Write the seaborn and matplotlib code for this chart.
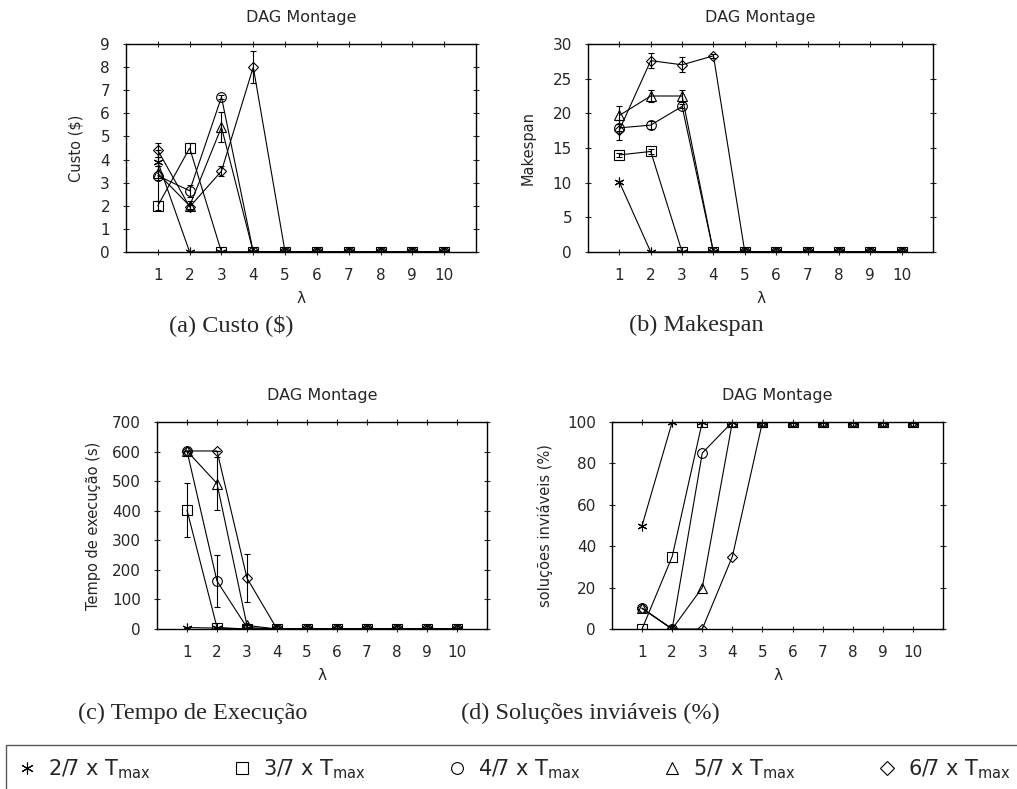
import matplotlib
matplotlib.use('Agg')
import matplotlib.pyplot as plt
import matplotlib.lines as mlines
import seaborn as sns
import numpy as np

# eixo x (lambda)
lam = [1, 2, 3, 4, 5, 6, 7, 8, 9, 10]
series_names = ['2/7 x T', '3/7 x T', '4/7 x T', '5/7 x T', '6/7 x T']

# (a) Custo ($)
custo_27 = [3.9, 0, 0, 0, 0, 0, 0, 0, 0, 0]
custo_37 = [2.0, 4.5, 0, 0, 0, 0, 0, 0, 0, 0]
custo_47 = [3.3, 2.65, 6.7, 0, 0, 0, 0, 0, 0, 0]
custo_57 = [3.4, 2.0, 5.4, 0, 0, 0, 0, 0, 0, 0]
custo_67 = [4.4, 1.95, 3.5, 8.0, 0, 0, 0, 0, 0, 0]
custo_err_27 = [0.2, 0, 0, 0, 0, 0, 0, 0, 0, 0]
custo_err_37 = [0.2, 0.2, 0, 0, 0, 0, 0, 0, 0, 0]
custo_err_47 = [1.1, 0.25, 0.1, 0, 0, 0, 0, 0, 0, 0]
custo_err_57 = [0.3, 0.2, 0.65, 0, 0, 0, 0, 0, 0, 0]
custo_err_67 = [0.3, 0.1, 0.2, 0.7, 0, 0, 0, 0, 0, 0]

# (b) Makespan
mk_27 = [10.1, 0, 0, 0, 0, 0, 0, 0, 0, 0]
mk_37 = [14.0, 14.5, 0, 0, 0, 0, 0, 0, 0, 0]
mk_47 = [17.9, 18.3, 21.0, 0, 0, 0, 0, 0, 0, 0]
mk_57 = [19.7, 22.5, 22.5, 0, 0, 0, 0, 0, 0, 0]
mk_67 = [17.6, 27.6, 27.0, 28.3, 0, 0, 0, 0, 0, 0]
mk_err_27 = [0.2, 0, 0, 0, 0, 0, 0, 0, 0, 0]
mk_err_37 = [0.3, 0.4, 0, 0, 0, 0, 0, 0, 0, 0]
mk_err_47 = [0.5, 0.6, 0.3, 0, 0, 0, 0, 0, 0, 0]
mk_err_57 = [1.3, 0.8, 0.8, 0, 0, 0, 0, 0, 0, 0]
mk_err_67 = [1.4, 1.1, 1.1, 0.3, 0, 0, 0, 0, 0, 0]

# (c) Tempo de execucao (s)
tempo_27 = [5, 3, 0, 0, 0, 0, 0, 0, 0, 0]
tempo_37 = [402, 5, 0, 0, 0, 0, 0, 0, 0, 0]
tempo_47 = [602, 162, 5, 0, 0, 0, 0, 0, 0, 0]
tempo_57 = [602, 492, 12, 0, 0, 0, 0, 0, 0, 0]
tempo_67 = [602, 602, 172, 0, 0, 0, 0, 0, 0, 0]
tempo_err_27 = [0, 0, 0, 0, 0, 0, 0, 0, 0, 0]
tempo_err_37 = [92, 0, 0, 0, 0, 0, 0, 0, 0, 0]
tempo_err_47 = [0, 88, 0, 0, 0, 0, 0, 0, 0, 0]
tempo_err_57 = [0, 88, 0, 0, 0, 0, 0, 0, 0, 0]
tempo_err_67 = [0, 0, 80, 0, 0, 0, 0, 0, 0, 0]

# (d) Solucoes inviaveis (%)
inv_27 = [50, 100, 100, 100, 100, 100, 100, 100, 100, 100]
inv_37 = [0, 35, 100, 100, 100, 100, 100, 100, 100, 100]
inv_47 = [10, 0, 85, 100, 100, 100, 100, 100, 100, 100]
inv_57 = [10, 0, 20, 100, 100, 100, 100, 100, 100, 100]
inv_67 = [10, 0, 0, 35, 100, 100, 100, 100, 100, 100]

markers = [(6, 2, 0), 's', 'o', '^', 'D']
msizes = [7, 6.5, 7, 6.5, 5.5]

sns.set_theme(style='white')
plt.rcParams['font.family'] = ['DejaVu Sans']
plt.rcParams['axes.edgecolor'] = 'black'
plt.rcParams['axes.linewidth'] = 1.0

W, H = 1017, 789
fig = plt.figure(figsize=(W / 100, H / 100), dpi=100)


def add_ax(left, top, width, height):
    return fig.add_axes([left / W, (H - top - height) / H, width / W, height / H])


def draw_panel(ax, ys, errs, ylim, yticks, ylabel, ylabel_pad):
    for i, y in enumerate(ys):
        sns.lineplot(x=lam, y=y, ax=ax, color='black', lw=0.8, marker=markers[i],
                     ms=msizes[i], mfc='none', mec='black', mew=0.8, legend=False)
        if errs is not None:
            ax.errorbar(lam, y, yerr=errs[i], fmt='none', ecolor='black',
                        elinewidth=0.8, capsize=2, capthick=0.8)
    ax.set_xlim(0, 11)
    ax.set_ylim(*ylim)
    ax.set_xticks(lam)
    ax.set_yticks(yticks)
    ax.set_title('DAG Montage', fontsize=11.5, pad=16)
    ax.set_xlabel('λ', fontsize=11, labelpad=6)
    ax.set_ylabel(ylabel, fontsize=10.5, labelpad=ylabel_pad)
    ax.tick_params(axis='both', labelsize=11, direction='inout', length=5, width=0.8,
                   pad=9, top=True, right=True, bottom=True, left=True)
    for s in ax.spines.values():
        s.set_visible(True)
        s.set_color('black')


ax_a = add_ax(126, 44, 350, 208)
draw_panel(ax_a, [custo_27, custo_37, custo_47, custo_57, custo_67],
           [custo_err_27, custo_err_37, custo_err_47, custo_err_57, custo_err_67],
           (0, 9), range(0, 10), 'Custo ($)', 12)

ax_b = add_ax(588, 44, 345, 208)
draw_panel(ax_b, [mk_27, mk_37, mk_47, mk_57, mk_67],
           [mk_err_27, mk_err_37, mk_err_47, mk_err_57, mk_err_67],
           (0, 30), range(0, 31, 5), 'Makespan', 12)

ax_c = add_ax(157, 422, 330, 207)
draw_panel(ax_c, [tempo_27, tempo_37, tempo_47, tempo_57, tempo_67],
           [tempo_err_27, tempo_err_37, tempo_err_47, tempo_err_57, tempo_err_67],
           (0, 700), range(0, 701, 100), 'Tempo de execução (s)', 8)

ax_d = add_ax(612, 422, 331, 207)
draw_panel(ax_d, [inv_27, inv_37, inv_47, inv_57, inv_67], None,
           (0, 100), range(0, 101, 20), 'soluções inviáveis (%)', 10)

# legendas das subfiguras (estilo LaTeX)
serif = ['Liberation Serif', 'DejaVu Serif']
fig.text(231 / W, 1 - 325 / H, '(a) Custo ($)', family=serif, fontsize=17.5, ha='center', va='center')
fig.text(696 / W, 1 - 325 / H, '(b) Makespan', family=serif, fontsize=17.5, ha='center', va='center')
fig.text(193 / W, 1 - 713 / H, '(c) Tempo de Execução', family=serif, fontsize=17.5, ha='center', va='center')
fig.text(590 / W, 1 - 713 / H, '(d) Soluções inviáveis (%)', family=serif, fontsize=17.5, ha='center', va='center')

# legenda comum
handles = [mlines.Line2D([], [], ls='none', marker=markers[i], ms=msizes[i] + 1.5,
                         mfc='none', mec='black', mew=0.8) for i in range(5)]
labels = [n + '$_\\mathregular{max}$' for n in series_names]
fig.legend(handles, labels, loc='upper left', bbox_to_anchor=(6 / W, 44 / H, 1.0, 0),
           mode='expand', ncol=5, fontsize=15, frameon=True, fancybox=False,
           edgecolor='0.35', framealpha=1, borderpad=0.6, handlelength=0.8,
           handletextpad=0.6, borderaxespad=0)

fig.savefig('out.png', dpi=100)
